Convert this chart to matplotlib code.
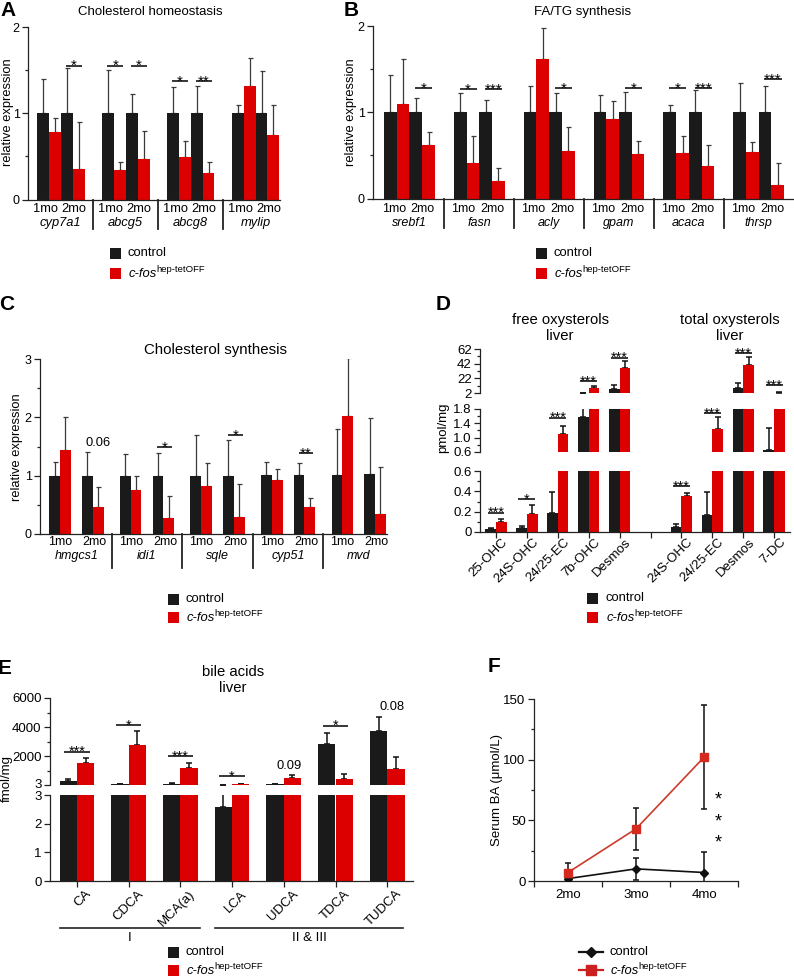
import matplotlib
matplotlib.use('Agg')
import matplotlib.pyplot as plt
import matplotlib.transforms as mtransforms
from matplotlib.patches import Rectangle
from matplotlib.lines import Line2D
import numpy as np

plt.rcParams['font.family'] = ['Liberation Sans', 'DejaVu Sans']
plt.rcParams['font.size'] = 9
plt.rcParams['axes.linewidth'] = 0.9
for k in ['xtick.major.width', 'ytick.major.width', 'xtick.minor.width', 'ytick.minor.width']:
    plt.rcParams[k] = 0.9

W, H = 794, 977
fig = plt.figure(figsize=(W / 100, H / 100), dpi=100)

BLACK = '#1a1a1a'
RED = '#dd0000'
ERR = '#3a3a3a'
AXC = '#222222'

# ---------------- data ----------------
months = ['1mo', '2mo']
legend_labels = ['control', 'c-fos', 'hep-tetOFF']

# A: cholesterol homeostasis  (values per gene: [1mo, 2mo])
a_genes = ['cyp7a1', 'abcg5', 'abcg8', 'mylip']
a_ctrl = [[1.0, 1.0], [1.0, 1.0], [1.0, 1.0], [1.0, 1.0]]
a_ctrl_err = [[0.40, 0.52], [0.50, 0.22], [0.31, 0.32], [0.09, 0.49]]
a_cfos = [[0.78, 0.35], [0.34, 0.47], [0.49, 0.31], [1.32, 0.75]]
a_cfos_err = [[0.16, 0.55], [0.09, 0.32], [0.19, 0.12], [0.32, 0.35]]
a_sig = [[None, '*'], ['*', '*'], ['*', '**'], [None, None]]
a_sig_y = [[0, 1.55], [1.55, 1.55], [1.37, 1.37], [0, 0]]

# B: FA/TG synthesis
b_genes = ['srebf1', 'fasn', 'acly', 'gpam', 'acaca', 'thrsp']
b_ctrl = [[1.0, 1.0]] * 6
b_ctrl_err = [[0.43, 0.17], [0.22, 0.14], [0.30, 0.22], [0.20, 0.24], [0.08, 0.26], [0.34, 0.31]]
b_cfos = [[1.10, 0.62], [0.41, 0.20], [1.62, 0.55], [0.92, 0.52], [0.53, 0.38], [0.54, 0.16]]
b_cfos_err = [[0.52, 0.15], [0.32, 0.15], [0.36, 0.28], [0.21, 0.15], [0.20, 0.24], [0.12, 0.25]]
b_sig = [[None, '*'], ['*', '***'], [None, '*'], [None, '*'], ['*', '***'], [None, '***']]
b_sig_y = [[0, 1.28], [1.27, 1.27], [0, 1.28], [0, 1.28], [1.28, 1.28], [0, 1.38]]

# C: cholesterol synthesis
c_genes = ['hmgcs1', 'idi1', 'sqle', 'cyp51', 'mvd']
c_ctrl = [[1.0, 1.0], [1.0, 1.0], [1.0, 1.0], [1.02, 1.02], [1.02, 1.03]]
c_ctrl_err = [[0.23, 0.40], [0.37, 0.39], [0.70, 0.61], [0.22, 0.20], [0.78, 0.96]]
c_cfos = [[1.44, 0.46], [0.75, 0.28], [0.82, 0.29], [0.92, 0.46], [2.02, 0.35]]
c_cfos_err = [[0.56, 0.35], [0.25, 0.38], [0.40, 0.57], [0.19, 0.15], [1.00, 0.80]]
c_sig = [[None, '0.06'], [None, '*'], [None, '*'], [None, '**'], [None, None]]
c_sig_y = [[0, 1.56], [0, 1.49], [0, 1.69], [0, 1.39], [0, 0]]

# D: oxysterols (pmol/mg)
d_labels = ['25-OHC', '24S-OHC', '24/25-EC', '7b-OHC', 'Desmos', '24S-OHC', '24/25-EC', 'Desmos', '7-DC']
d_pos = [0, 1, 2, 3, 4, 6, 7, 8, 9]
d_ctrl = [0.03, 0.04, 0.19, 1.58, 7.9, 0.05, 0.17, 8.8, 0.66]
d_ctrl_err = [0.008, 0.015, 0.20, 0.72, 5.1, 0.025, 0.22, 6.8, 0.62]
d_cfos = [0.10, 0.18, 1.10, 9.0, 36.0, 0.35, 1.24, 40.0, 2.5]
d_cfos_err = [0.03, 0.09, 0.23, 2.5, 10.0, 0.03, 0.34, 11.0, 0.3]
d_sig = ['***', '*', '***', '***', '***', '***', '***', '***', '***']
d_sig_seg = [0, 0, 1, 2, 2, 0, 1, 2, 2]
d_sig_y = [0.19, 0.32, 1.56, 18, 50, 0.45, 1.69, 56.5, 13]

# E: bile acids liver (fmol/mg)
e_labels = ['CA', 'CDCA', 'MCA(a)', 'LCA', 'UDCA', 'TDCA', 'TUDCA']
e_ctrl = [300, 50, 100, 2.57, 60, 2825, 3700]
e_ctrl_err = [110, 10, 20, 0.5, 15, 775, 1000]
e_cfos = [1536, 2756, 1150, 70, 460, 390, 1080]
e_cfos_err = [344, 984, 345, 30, 230, 390, 870]
e_sig = ['***', '*', '***', '*', '0.09', '*', '0.08']
e_sig_y = [2290, 4130, 2000, 620, 1300, 4090, 5400]

# F: serum BA
f_x = ['2mo', '3mo', '4mo']
f_ctrl = [2, 10, 7]
f_ctrl_err = [1.5, 9, 17]
f_cfos = [7, 43, 102]
f_cfos_err = [7.5, 17.5, 43]


# ---------------- helpers ----------------
def add_ax(l, t, r, b):
    ax = fig.add_axes([l / W, 1 - b / H, (r - l) / W, (b - t) / H])
    ax.patch.set_alpha(0)
    for s in ['top', 'right']:
        ax.spines[s].set_visible(False)
    for s in ['left', 'bottom']:
        ax.spines[s].set_color(AXC)
    ax.tick_params(which='major', length=4, color=AXC, labelsize=9, pad=2)
    ax.tick_params(which='minor', length=2.2, color=AXC)
    return ax


def blend(ax):
    return mtransforms.blended_transform_factory(ax.transData, ax.transAxes)


def sig_mark(ax, x0, x1, y, s, fs=11):
    ax.plot([x0, x1], [y, y], color='k', lw=1.1, solid_capstyle='butt', zorder=4, clip_on=False)
    ax.annotate(s, ((x0 + x1) / 2, y), xytext=(0, -3.2), textcoords='offset points',
                ha='center', va='baseline', fontsize=fs, zorder=5, annotation_clip=False)


def gene_panel(rect, genes, ctrl, ctrl_err, cfos, cfos_err, sig, sig_y, G, M, xlim,
               ylim, yticks, yminor, sep_px, mo_px, gene_px, mo_shift, lab_fs=9.3):
    l, t, r, b = rect
    hpx = b - t
    ax = add_ax(l, t, r, b)
    tr = blend(ax)
    for i, g in enumerate(genes):
        for m in range(2):
            xb = i * G + m * M
            xr = xb + 1
            ax.bar([xb], [ctrl[i][m]], width=1, facecolor=BLACK, lw=0, zorder=2)
            ax.bar([xr], [cfos[i][m]], width=1, facecolor=RED, lw=0, zorder=2)
            ax.errorbar([xb, xr], [ctrl[i][m], cfos[i][m]],
                        yerr=[[0, 0], [ctrl_err[i][m], cfos_err[i][m]]],
                        fmt='none', ecolor=ERR, elinewidth=0.9, capsize=1.8, capthick=0.9, zorder=1)
            s = sig[i][m]
            if s:
                if s[0].isdigit():
                    ax.text(xr, sig_y[i][m], s, ha='center', va='center', fontsize=9.3)
                else:
                    sig_mark(ax, xb - 0.05, xr + 0.3, sig_y[i][m], s)
            ax.text(xb + 0.5 + mo_shift[m], (b - mo_px) / hpx, months[m], transform=tr,
                    ha='center', va='center', fontsize=lab_fs)
        ax.text(i * G + M / 2 + 0.5, (b - gene_px) / hpx, g, transform=tr, ha='center',
                va='center', fontsize=lab_fs, style='italic')
        if i < len(genes) - 1:
            xs = i * G + (M + 1 + G) / 2
            ax.plot([xs, xs], [0, -sep_px / hpx], transform=tr, color=AXC, lw=1.3, clip_on=False)
    ax.set_xlim(xlim)
    ax.set_ylim(ylim)
    ax.set_xticks([])
    ax.set_yticks(yticks)
    ax.set_yticks(yminor, minor=True)
    return ax


def seg_errorbar(ax, x, val, err, ylo):
    x = np.asarray(x, dtype=float)
    val = np.asarray(val, dtype=float)
    err = np.asarray(err, dtype=float)
    keep = (val + err) >= ylo          # only error bars that reach into this segment
    if keep.any():
        ax.errorbar(x[keep], val[keep], yerr=[np.zeros(keep.sum()), err[keep]], fmt='none',
                    ecolor='#111111', elinewidth=1.1, capsize=2.5, capthick=1.1, zorder=1)


def broken_panel(l, r, segs, pos, ctrl, ctrl_err, cfos, cfos_err, w, xlim, nticks, labels,
                 lab_off, lab_fs=9.5):
    pos = np.asarray(pos, dtype=float)
    axes = []
    for k, (t, b, ylim, ticks, ticklabels, minor) in enumerate(segs):
        ax = add_ax(l, t, r, b)
        ax.bar(pos - w / 2, ctrl, w, facecolor=BLACK, lw=0, zorder=2)
        ax.bar(pos + w / 2, cfos, w, facecolor=RED, lw=0, zorder=2)
        seg_errorbar(ax, pos - w / 2, ctrl, ctrl_err, ylim[0])
        seg_errorbar(ax, pos + w / 2, cfos, cfos_err, ylim[0])
        ax.set_xlim(xlim)
        ax.set_ylim(ylim)
        ax.set_yticks(ticks)
        ax.set_yticklabels(ticklabels, fontsize=lab_fs)
        ax.set_yticks(minor, minor=True)
        if k == 0:
            ax.set_xticks(range(nticks))
            ax.set_xticklabels([])
            for p, lab in zip(pos, labels):
                ax.annotate(lab, (p, 0), xycoords=blend(ax), xytext=lab_off,
                            textcoords='offset points', rotation=45, ha='right', va='top',
                            rotation_mode='anchor', fontsize=lab_fs, annotation_clip=False)
        else:
            ax.spines['bottom'].set_visible(False)
            ax.set_xticks([])
        axes.append(ax)
    return axes


# ---------------- panel A ----------------
gene_panel((28, 27, 280, 199.5), a_genes, a_ctrl, a_ctrl_err, a_cfos, a_cfos_err, a_sig, a_sig_y,
           G=5.45, M=2, xlim=(-1.25, 19.9), ylim=(0, 2), yticks=[0, 1, 2], yminor=[0.5, 1.5],
           sep_px=29, mo_px=209, gene_px=223, mo_shift=[-0.27, 0.08])

# ---------------- panel B ----------------
gene_panel((373, 26, 793, 198.5), b_genes, b_ctrl, b_ctrl_err, b_cfos, b_cfos_err, b_sig, b_sig_y,
           G=5.5, M=2, xlim=(-1.37, 31.7), ylim=(0, 2), yticks=[0, 1, 2], yminor=[0.5, 1.5],
           sep_px=29, mo_px=209, gene_px=223, mo_shift=[-0.24, 0.05], lab_fs=9.0)

# ---------------- panel C ----------------
gene_panel((40, 359, 387, 534), c_genes, c_ctrl, c_ctrl_err, c_cfos, c_cfos_err, c_sig, c_sig_y,
           G=6.54, M=3.03, xlim=(-1.36, 30.8), ylim=(0, 3), yticks=[0, 1, 2, 3],
           yminor=[0.5, 1.5, 2.5], sep_px=34, mo_px=541.7, gene_px=556, mo_shift=[0, 0.17],
           lab_fs=9.0)

# ---------------- panel D ----------------
d_step = 30.9
d_segs = [
    (471, 532, (0, 0.6), [0, 0.2, 0.4, 0.6], ['0', '0.2', '0.4', '0.6'], [0.1, 0.3, 0.5]),
    (409, 452, (0.6, 1.8), [0.6, 1.0, 1.4, 1.8], ['0.6', '1.0', '1.4', '1.8'], [0.8, 1.2, 1.6]),
    (349, 393, (2, 62), [2, 22, 42, 62], ['2', '22', '42', '62'], [12, 32, 52]),
]
d_axes = broken_panel(480, 790, d_segs, d_pos, d_ctrl, d_ctrl_err, d_cfos, d_cfos_err,
                      w=0.345, xlim=((480 - 496) / d_step, (790 - 496) / d_step), nticks=10,
                      labels=d_labels, lab_off=(4.0, -3.0))
for p, s, seg, y in zip(d_pos, d_sig, d_sig_seg, d_sig_y):
    sig_mark(d_axes[seg], p - 0.345 / 2 - 0.1, p + 0.345 / 2 + 0.1, y, s, fs=10.5)

# ---------------- panel E ----------------
e_step = 51.7
e_pos = list(range(len(e_labels)))
e_segs = [
    (795, 881, (0, 3), [0, 1, 2, 3], ['0', '1', '2', '3'], []),
    (698, 785, (3, 6000), [3, 2000, 4000, 6000], ['3', '2000', '4000', '6000'], [1000, 3000, 5000]),
]
e_axes = broken_panel(50, 413, e_segs, e_pos, e_ctrl, e_ctrl_err, e_cfos, e_cfos_err,
                      w=0.335, xlim=((50 - 77) / e_step, (413 - 77) / e_step), nticks=len(e_labels),
                      labels=e_labels, lab_off=(6.0, -5.0))
# nudge the two "3" labels at the break apart
for ax_, dy in [(e_axes[0], -1.0), (e_axes[1], 2.0)]:
    for lbl in ax_.get_yticklabels():
        if lbl.get_text() == '3':
            lbl.set_transform(lbl.get_transform() +
                              mtransforms.ScaledTranslation(0, dy / 100, fig.dpi_scale_trans))
for p, s, y in zip(e_pos, e_sig, e_sig_y):
    if s[0].isdigit():
        e_axes[1].text(p + 0.1, y, s, ha='center', va='center', fontsize=9.3)
    else:
        sig_mark(e_axes[1], p - 0.335 / 2 - 0.08, p + 0.335 / 2 + 0.08, y, s, fs=10.5)

# ---------------- panel F ----------------
axf = add_ax(534, 699, 738, 881)
fx = np.arange(len(f_x)) + 0.5
axf.errorbar(fx, f_ctrl, yerr=f_ctrl_err, fmt='none', ecolor='#111111', elinewidth=1.1,
             capsize=2.5, capthick=1.1, zorder=2)
axf.errorbar(fx, f_cfos, yerr=f_cfos_err, fmt='none', ecolor='#111111', elinewidth=1.1,
             capsize=2.5, capthick=1.1, zorder=2)
axf.plot(fx, f_ctrl, color='#111111', lw=1.2, marker='D', ms=4.5, zorder=3)
axf.plot(fx, f_cfos, color='#cc3a2a', lw=1.2, marker='s', ms=6, mfc='#d42a20', mec='#d42a20', zorder=3)
axf.set_xlim(0, 3)
axf.set_ylim(0, 150)
axf.set_xticks([0, 1, 2, 3])
axf.set_xticklabels([])
axf.set_xticks(fx, minor=True)
axf.set_xticklabels(f_x, minor=True, fontsize=9.5)
axf.tick_params(axis='x', which='minor', length=0, pad=6)
axf.set_yticks([0, 50, 100, 150])
axf.set_yticks([25, 75, 125], minor=True)
axf.tick_params(axis='y', labelsize=9.5)

# ---------------- overlay text ----------------
ov = fig.add_axes([0, 0, 1, 1], facecolor='none')
ov.set_xlim(0, W)
ov.set_ylim(H, 0)
ov.axis('off')

for lab, x, y in [('A', 8, 11), ('B', 351, 11), ('C', 7, 305), ('D', 443, 305),
                  ('E', 5, 668), ('F', 494, 667)]:
    ov.text(x, y, lab, ha='center', va='center', fontsize=15, fontweight='bold')

ov.text(150, 12, 'Cholesterol homeostasis', ha='center', va='center', fontsize=9.5)
ov.text(583, 12, 'FA/TG synthesis', ha='center', va='center', fontsize=9.5)
ov.text(215, 350, 'Cholesterol synthesis', ha='center', va='center', fontsize=10.8)
ov.text(560, 328, 'free oxysterols\nliver', ha='center', va='center', fontsize=10.7, linespacing=1.15)
ov.text(730, 328, 'total oxysterols\nliver', ha='center', va='center', fontsize=10.7, linespacing=1.15)
ov.text(233, 680, 'bile acids\nliver', ha='center', va='center', fontsize=10.7, linespacing=1.15)

ov.text(8, 112, 'relative expression', rotation=90, ha='center', va='center', fontsize=9.3)
ov.text(351, 112, 'relative expression', rotation=90, ha='center', va='center', fontsize=9.3)
ov.text(17, 447, 'relative expression', rotation=90, ha='center', va='center', fontsize=9.3)
ov.text(443, 428, 'pmol/mg', rotation=90, ha='center', va='center', fontsize=9.5)
ov.text(7, 778, 'fmol/mg', rotation=90, ha='center', va='center', fontsize=9.5)
ov.text(497, 790, 'Serum BA (\u03bcmol/L)', rotation=90, ha='center', va='center', fontsize=9.5)

# F significance
for y in [797, 819, 840]:
    ov.text(718, y + 3, '*', ha='center', va='center', fontsize=13)

# E group lines
ov.plot([60, 200], [928, 928], color=AXC, lw=1.2)
ov.plot([215, 403], [928, 928], color=AXC, lw=1.2)
ov.text(130, 932, 'I', ha='center', va='top', fontsize=9.5)
ov.text(309, 932, 'II & III', ha='center', va='top', fontsize=9.5)


def legend(xsq, y1, y2, xtxt, kind='bar'):
    if kind == 'bar':
        ov.add_patch(Rectangle((xsq, y1 - 5.5), 11, 11, facecolor=BLACK, lw=0))
        ov.add_patch(Rectangle((xsq, y2 - 5.5), 11, 11, facecolor=RED, lw=0))
    else:
        ov.add_line(Line2D([xsq, xsq + 24], [y1, y1], color='#111111', lw=1.6))
        ov.add_line(Line2D([xsq + 12], [y1], color='#111111', marker='D', ms=5.5))
        ov.add_line(Line2D([xsq, xsq + 24], [y2, y2], color='#cc2020', lw=1.6))
        ov.add_line(Line2D([xsq + 12], [y2], color='#cc2020', marker='s', ms=7))
    ov.text(xtxt, y1, legend_labels[0], va='center', ha='left', fontsize=9.4)
    t = ov.text(xtxt + 1.5, y2 + 1, legend_labels[1], va='center', ha='left', fontsize=9.4,
                style='italic')
    ov.annotate(legend_labels[2], xy=(1, 0.70), xycoords=t, va='baseline', ha='left', fontsize=6.8)


legend(110, 253, 273, 127)
legend(536, 253, 273, 553)
legend(168, 599, 617, 185)
legend(587, 598, 617, 605)
legend(168, 952, 970, 185)
legend(579, 952, 970, 609, kind='line')

fig.savefig('out.png', dpi=100)
